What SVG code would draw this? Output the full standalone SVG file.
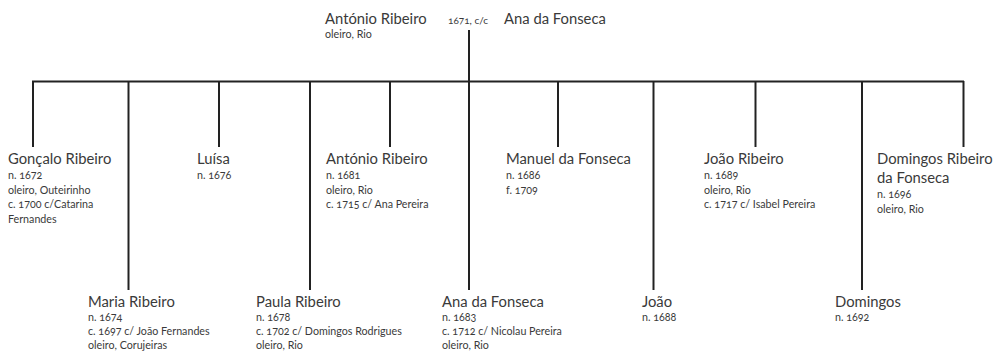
<svg xmlns="http://www.w3.org/2000/svg" width="996" height="354" viewBox="0 0 996 354">
<style>
text{font-family:Lato,"Open Sans","Liberation Sans",sans-serif;fill:#3a3a3a;font-variant-numeric:oldstyle-nums}
.n{font-size:14.8px}
.d{font-size:10.7px}
.s{font-size:10px}
.c line{stroke:#222;stroke-width:2}
</style>
<rect width="996" height="354" fill="#fff"/>
<g class="c" id="connectors">
<line x1="469" y1="30" x2="469" y2="82"/>
<line x1="32" y1="81.5" x2="964" y2="81.5"/>
<line x1="33" y1="81" x2="33" y2="147"/>
<line x1="128.5" y1="81" x2="128.5" y2="290"/>
<line x1="219" y1="81" x2="219" y2="147"/>
<line x1="310" y1="81" x2="310" y2="290"/>
<line x1="390" y1="81" x2="390" y2="147"/>
<line x1="469" y1="81" x2="469" y2="290"/>
<line x1="558" y1="81" x2="558" y2="147"/>
<line x1="653.5" y1="81" x2="653.5" y2="290"/>
<line x1="755.5" y1="81" x2="755.5" y2="147"/>
<line x1="862" y1="81" x2="862" y2="290"/>
<line x1="963.5" y1="81" x2="963.5" y2="147"/>
</g>
<g id="parents">
<text class="n" x="325" y="24">António Ribeiro</text>
<text class="d" x="325" y="38">oleiro, Rio</text>
<text class="s" x="448" y="24">1671, c/c</text>
<text class="n" x="504" y="24">Ana da Fonseca</text>
</g>
<g id="goncalo">
<text class="n" x="8" y="164">Gonçalo Ribeiro</text>
<text class="d" x="8" y="179">n. 1672</text>
<text class="d" x="8" y="193.5">oleiro, Outeirinho</text>
<text class="d" x="8" y="208">c. 1700 c/Catarina</text>
<text class="d" x="8" y="222.5">Fernandes</text>
</g>
<g id="luisa">
<text class="n" x="197" y="164">Luísa</text>
<text class="d" x="197" y="179">n. 1676</text>
</g>
<g id="antonio">
<text class="n" x="326" y="164">António Ribeiro</text>
<text class="d" x="326" y="179">n. 1681</text>
<text class="d" x="326" y="193.5">oleiro, Rio</text>
<text class="d" x="326" y="208">c. 1715 c/ Ana Pereira</text>
</g>
<g id="manuel">
<text class="n" x="506" y="164">Manuel da Fonseca</text>
<text class="d" x="506" y="179">n. 1686</text>
<text class="d" x="506" y="193.5">f. 1709</text>
</g>
<g id="joao-ribeiro">
<text class="n" x="704" y="164">João Ribeiro</text>
<text class="d" x="704" y="179">n. 1689</text>
<text class="d" x="704" y="193.5">oleiro, Rio</text>
<text class="d" x="704" y="208">c. 1717 c/ Isabel Pereira</text>
</g>
<g id="domingos-ribeiro">
<text class="n" x="877" y="164">Domingos Ribeiro</text>
<text class="n" x="877" y="183">da Fonseca</text>
<text class="d" x="877" y="198">n. 1696</text>
<text class="d" x="877" y="212.5">oleiro, Rio</text>
</g>
<g id="maria">
<text class="n" x="88" y="307">Maria Ribeiro</text>
<text class="d" x="88" y="321">n. 1674</text>
<text class="d" x="88" y="335">c. 1697 c/ João Fernandes</text>
<text class="d" x="88" y="349">oleiro, Corujeiras</text>
</g>
<g id="paula">
<text class="n" x="256" y="307">Paula Ribeiro</text>
<text class="d" x="256" y="321">n. 1678</text>
<text class="d" x="256" y="335">c. 1702 c/ Domingos Rodrigues</text>
<text class="d" x="256" y="349">oleiro, Rio</text>
</g>
<g id="ana">
<text class="n" x="442" y="307">Ana da Fonseca</text>
<text class="d" x="442" y="321">n. 1683</text>
<text class="d" x="442" y="335">c. 1712 c/ Nicolau Pereira</text>
<text class="d" x="442" y="349">oleiro, Rio</text>
</g>
<g id="joao">
<text class="n" x="642" y="307">João</text>
<text class="d" x="642" y="321">n. 1688</text>
</g>
<g id="domingos">
<text class="n" x="835" y="307">Domingos</text>
<text class="d" x="835" y="321">n. 1692</text>
</g>
</svg>
